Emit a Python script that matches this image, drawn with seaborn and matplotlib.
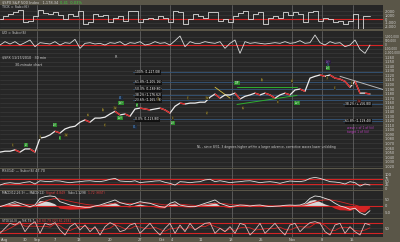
import numpy as np
import pandas as pd
import matplotlib
matplotlib.use("Agg")
import matplotlib.pyplot as plt
from matplotlib.collections import LineCollection
import seaborn as sns

# ---------------- data ----------------
price = [1051, 1053, 1053, 1056, 1051, 1058, 1058, 1051, 1082, 1084,
         1089, 1097, 1093, 1102, 1106, 1108, 1117, 1122, 1117, 1126,
         1126, 1128, 1135, 1141, 1133, 1135, 1130, 1146, 1148, 1146,
         1144, 1146, 1148, 1144, 1137, 1152, 1159, 1157, 1159, 1159,
         1161, 1161, 1172, 1179, 1170, 1177, 1177, 1181, 1168, 1174,
         1177, 1181, 1177, 1181, 1177, 1170, 1177, 1181, 1177, 1188,
         1190, 1185, 1214, 1218, 1221, 1218, 1221, 1214, 1212, 1207,
         1194, 1207, 1181, 1181, 1179]
tick = [0, 800, 1300, 1800, 2500, -800, -500, 800, 2500, 1500,
        1300, 1800, 1200, 0, 1300, 800, 2000, -1300, -800, 1300,
        800, 1200, -800, 400, 800, -500, 2000, 2000, -800, 0,
        400, 0, 800, 400, -800, 2000, 1800, -1300, 0, 1300,
        800, 400, 1800, 1800, -500, 0, -800, 800, 1700, 2000,
        0, 1300, 1800, -1300, 400, 800, 400, 1800, 1200, 1800,
        1300, -800, 1800, 2000, -500, 400, 0, -800, -500, -1300,
        -500, 1300, -2700, 800, 800]
updown_k = [0, 417, 125, 417, 0, 292, 625, -208, 292, 208,
            125, 417, 0, 292, 208, 708, -417, 208, 292, 125,
            208, 0, 292, 208, 417, 0, 292, 208, 417, 0,
            125, 417, 208, 292, 0, 542, 1125, -208, 417, 208,
            208, 417, 292, 208, 417, -417, 208, 625, -1042, 417,
            208, 292, 208, 125, 208, 292, 208, 417, 208, 292,
            542, 208, 292, 1250, 292, 0, 417, 208, 292, -208,
            0, 625, -542, -1042, 0]
rsi = [23, 36, 41, 36, 36, 44, 49, 31, 56, 51,
       49, 56, 54, 46, 41, 46, 49, 54, 56, 51,
       49, 56, 67, 74, 54, 51, 49, 56, 41, 46,
       49, 54, 56, 44, 36, 23, 49, 46, 41, 46,
       49, 62, 67, 49, 56, 49, 41, 46, 49, 54,
       56, 49, 41, 46, 49, 44, 36, 46, 54, 51,
       49, 56, 74, 82, 74, 62, 49, 46, 41, 31,
       49, 41, 15, 31, 23]
macd = [-5, 7, 20, 32, 20, 7, -5, 7, 57, 70,
        75, 70, 32, 20, 7, 0, -5, -10, -10, 0,
        7, 20, 32, 45, 25, 15, 7, 20, 32, 25,
        20, 7, -5, -10, 20, 32, 7, 0, -5, -5,
        7, 20, 32, 45, 20, 7, -5, 0, 7, 5,
        0, 5, 7, 0, -5, -2, 0, 5, 7, 5,
        7, 20, 57, 75, 70, 57, 45, 20, 0, -10,
        -25, -17, -50, -67, -35]
signal = [0, 2, 6, 12, 15, 13, 9, 8, 20, 35,
          48, 57, 52, 44, 35, 27, 20, 13, 8, 5,
          5, 8, 14, 22, 23, 21, 18, 18, 21, 22,
          21, 18, 13, 8, 10, 15, 13, 10, 7, 4,
          5, 8, 13, 20, 20, 17, 12, 9, 8, 7,
          5, 5, 5, 4, 2, 1, 1, 2, 3, 4,
          4, 8, 18, 30, 40, 45, 45, 40, 32, 23,
          13, 7, -5, -18, -22]
stoch_k = [20, 50, 80, 70, 90, 30, 70, 90, 20, 80,
           70, 84, 40, 10, 60, 80, 40, 70, 30, 60,
           10, 60, 84, 70, 30, 40, 70, 80, 20, 50,
           80, 40, 10, 50, 80, 20, 70, 30, 80, 40,
           60, 80, 84, 20, 50, 30, 60, 20, 80, 70,
           10, 40, 80, 20, 50, 80, 40, 10, 70, 80,
           30, 60, 84, 90, 80, 30, 10, 70, 80, 20,
           60, 30, 10, 80, 70]
stoch_d = [30, 35, 50, 67, 80, 63, 63, 63, 60, 63,
           57, 78, 65, 45, 37, 50, 60, 63, 47, 53,
           33, 43, 51, 71, 61, 47, 47, 63, 57, 50,
           50, 57, 43, 33, 47, 50, 57, 40, 60, 43,
           60, 60, 75, 61, 51, 33, 47, 37, 53, 57,
           53, 40, 43, 47, 50, 50, 57, 43, 40, 53,
           60, 57, 58, 78, 85, 67, 40, 37, 53, 57,
           53, 37, 33, 40, 53]

date_labels = ["Aug", "30", "Sep", "7", "13", "20", "27", "Oct", "4",
               "11", "18", "25", "Nov", "8", "15"]
date_pos = [1.0, 5.0, 7.4, 11.0, 15.8, 22.0, 28.0, 32.4, 34.3,
            40.2, 46.2, 52.2, 58.4, 64.4, 70.4]
vgrid_pos = [7.4, 15.8, 28.0, 34.0, 46.4, 58.4, 64.4, 70.6]

price_ticks = list(range(1020, 1261, 10))
tick_ticks = [2000, 1000, 0, -1000, -2000]
ud_ticks = [1000, 500, 0, -500, -1000]
rsi_ticks = [100, 75, 50, 25, 0]
macd_ticks = [50, 0, -50]
stoch_ticks = [50]

fib_left = [1227.2, 1205.2, 1189.8, 1176.6, 1165.6, 1123.8]
fib_left_txt = ["100% (1,227.08)", "61.8% (1,205.16)", "50.0% (1,189.80)",
                "38.2% (1,176.62)", "23.6% (1,165.58)", "0.0% (1,123.80)"]
fib_right = [1156.8, 1119.4]
fib_right_txt = ["38.2% (1,156.80)", "61.8% (1,119.40)"]

# ---------------- style ----------------
BG = "#5a5648"
PANEL = "#262626"
GRID = "#3b3b3b"
VGRID = "#6c6c6c"
TXT = "#d2d2d2"
RED = "#d42424"
LRED = "#e04040"

sns.set_style("dark", rc={"axes.facecolor": PANEL, "figure.facecolor": BG})
plt.rcParams["font.family"] = ["DejaVu Sans"]

W, H = 400, 242
fig = plt.figure(figsize=(4, 2.42), dpi=100, facecolor=BG)
renderer = fig.canvas.get_renderer()
XMAX = 383 / 5.0

df = pd.DataFrame({"bar": np.arange(len(price)), "price": price,
                   "tick": tick, "ud": np.array(updown_k) * 1000,
                   "rsi": rsi, "macd": macd, "signal": signal,
                   "k": stoch_k, "d": stoch_d})


def px_axes(x0, y0, x1, y1, ylim, yticks, fmt="{:,}", fs=2.6):
    ax = fig.add_axes([x0 / W, 1 - y1 / H, (x1 - x0) / W, (y1 - y0) / H])
    ax.set_facecolor(PANEL)
    for s in ax.spines.values():
        s.set_visible(False)
    ax.set_xlim(0, XMAX)
    ax.set_ylim(*ylim)
    ax.set_xticks([])
    ax.yaxis.tick_right()
    ax.set_yticks(yticks)
    ax.set_yticklabels([fmt.format(v) for v in yticks])
    ax.tick_params(axis="y", length=0, pad=1.0, labelsize=fs, labelcolor=TXT)
    for v in yticks:
        ax.axhline(v, color=GRID, lw=0.45, zorder=0.3)
    for d in vgrid_pos:
        ax.axvline(d, color=VGRID, lw=0.5, zorder=0.5)
    ax.set_xlabel("")
    ax.set_ylabel("")
    return ax


def header(x_px, y_px, s, color=TXT, fs=2.4):
    return fig.text(x_px / W, 1 - y_px / H, s, color=color, fontsize=fs,
                    va="center", ha="left")


def header_chain(x_px, y_px, parts, fs=2.4, gap=2.0):
    x = x_px
    for s, c in parts:
        t = header(x, y_px, s, color=c, fs=fs)
        bb = t.get_window_extent(renderer=renderer)
        x += bb.width + gap


# title bar
header_chain(2, 2.5, [("$SPX S&P 500 Index   1,178.34", TXT),
                      ("0.41  0.03%", "#3ccf3c")], fs=2.6)

# ---- panel 1: TICK ----
ax1 = px_axes(0, 5, 383, 29, (-2600, 3700), tick_ticks)
sns.lineplot(data=df, x="bar", y="tick", ax=ax1, color="#dcdcdc", lw=0.6,
             drawstyle="steps-mid", zorder=3)
ax1.axhline(0, color=RED, lw=0.8, zorder=2)
ax1.set_xlabel(""); ax1.set_ylabel("")
header(2, 7.5, "TICK = Sub=(6)")

# ---- panel 2: up/down ----
ax2 = px_axes(0, 31, 383, 55, (-1250000, 1750000), [v * 1000 for v in ud_ticks],
              fs=2.1)
sns.lineplot(data=df, x="bar", y="ud", ax=ax2, color="#dcdcdc", lw=0.6, zorder=3)
ax2.axhline(0, color=RED, lw=0.8, zorder=2)
ax2.set_xlabel(""); ax2.set_ylabel("")
header(2, 33.5, "UD = Sub=(6)")

# ---- main price panel ----
axm = px_axes(0, 55, 383, 168, (1016, 1265), price_ticks, fs=2.5)
for lv, s in zip(fib_left, fib_left_txt):
    axm.plot([26.5, XMAX], [lv, lv], color="#35577a", lw=0.6, zorder=1)
    axm.text(27, lv, s, fontsize=2.2, color="white", va="center", ha="left",
             zorder=6, bbox=dict(facecolor="#111111", edgecolor="none", pad=0.3))
for lv, s in zip(fib_right, fib_right_txt):
    axm.plot([68.5, XMAX], [lv, lv], color="#35577a", lw=0.6, zorder=1)
    axm.text(69, lv, s, fontsize=2.2, color="white", va="center", ha="left",
             zorder=6, bbox=dict(facecolor="#111111", edgecolor="none", pad=0.3))
# analyst trendlines
axm.plot([47.4, 59.4], [1194, 1194], color="#2fae2f", lw=0.7, zorder=2)
axm.plot([47.4, 59.4], [1156, 1176], color="#2fae2f", lw=0.7, zorder=2)
axm.plot([68, XMAX], [1218, 1189], color="#b8b8b8", lw=0.7, zorder=2)
axm.plot([43, 46], [1194, 1170], color="#d8c040", lw=0.6, zorder=2)

sns.lineplot(data=df, x="bar", y="price", ax=axm, color="#ececec", lw=0.9, zorder=3)
segs = [[(i - 1, price[i - 1]), (i, price[i])] for i in range(1, len(price))
        if price[i] < price[i - 1]]
axm.add_collection(LineCollection(segs, colors=RED, linewidths=1.0, zorder=4))
axm.set_xlabel(""); axm.set_ylabel("")

header(2, 57.5, "$SPX 11/17/2010   30 min")
header(115, 57.5, "R")
header(15, 65, "30-minute chart")
fig.text(197 / W, 1 - 147 / H,
         "NL - since 8/31, 3 degrees higher within a larger advance, corrective waves lower unfolding",
         color=TXT, fontsize=2.2, va="center", ha="left")
fig.text(347 / W, 1 - 128 / H, "wave c of 1 of (iii)", color="#c040c0",
         fontsize=2.2, va="center", ha="left")
fig.text(347 / W, 1 - 132 / H, "target 1 of (iii)", color="#c040c0",
         fontsize=2.2, va="center", ha="left")

# wave labels (annotation boxes)
waves = [
    (13, 145, "ii", "y"), (26, 145, "(i)", "g"), (55, 125, "(ii)", "g"),
    (60, 138, "iii", "g"), (40, 137, "i", "y"), (66, 135, "iv", "y"),
    (88, 115, "a", "y"), (103, 110, "b", "y"), (105, 125, "c", "y"),
    (121, 98, "A1", "b"), (121, 103, "(iii)", "g"), (115, 108, "iv", "y"),
    (120, 118, "(iv)", "g"), (137, 105, "v", "g"), (135, 127, "B1", "b"),
    (158, 99, "i", "y"), (173, 123, "(ii)", "g"), (173, 118, "ii", "y"),
    (188, 98, "iii", "y"), (207, 98, "iv", "y"), (207, 113, "v", "y"),
    (237, 83, "DIP", "g"), (243, 108, "a", "y"), (262, 80, "b", "y"),
    (278, 102, "c", "y"), (292, 81, "d", "y"), (297, 103, "(iv)", "g"),
    (328, 62, "(iii)", "p"), (328, 65, "3", "b"), (328, 68, "(v)", "g"),
    (327, 78, "i", "y"), (335, 88, "ii", "y"), (352, 83, "iii", "y"),
    (359, 101, "iv", "r"),
]
wstyle = {"y": ("#d8c040", "#3a3520"), "g": ("#e8ffe8", "#2a8a2a"),
          "b": ("#5a9ae0", "#1e2a3a"), "p": ("#b070e0", "#2a1e3a"),
          "r": ("#e04040", "#3a1e1e")}
for xp, yp, s, k in waves:
    fc, bc = wstyle[k]
    fig.text(xp / W, 1 - yp / H, s, color=fc, fontsize=2.0, ha="center",
             va="center", bbox=dict(facecolor=bc, edgecolor="none", pad=0.25))

# ---- RSI ----
axr = px_axes(0, 169, 383, 190, (-15, 146), rsi_ticks)
axr.axhline(70, color=RED, lw=0.8, zorder=2)
axr.axhline(30, color=RED, lw=0.8, zorder=2)
sns.lineplot(data=df, x="bar", y="rsi", ax=axr, color="#dcdcdc", lw=0.6, zorder=3)
axr.set_xlabel(""); axr.set_ylabel("")
header(2, 171, "RSI(14) \u2014 Sub=(6) 47.70")

# ---- MACD ----
axc = px_axes(0, 191, 383, 218, (-90, 112), macd_ticks)
hist = np.array(macd) - np.array(signal)
bars = df["bar"].values
axc.fill_between(bars, 0, hist, where=hist >= 0, color="#d8d8d8", lw=0,
                 interpolate=True, zorder=2)
axc.fill_between(bars, 0, hist, where=hist < 0, color=RED, lw=0,
                 interpolate=True, zorder=2)
axc.axhline(0, color=RED, lw=0.8, zorder=2)
sns.lineplot(data=df, x="bar", y="signal", ax=axc, color=RED, lw=0.6, zorder=3)
sns.lineplot(data=df, x="bar", y="macd", ax=axc, color="#e6e6e6", lw=0.6, zorder=4)
axc.set_xlabel(""); axc.set_ylabel("")
header_chain(2, 193, [("MACD(12,26,9) \u2014 MACD(12)", TXT),
                      ("Signal 4.849", LRED), ("Sub=1.1298", TXT),
                      ("1.72 (HIST)", LRED)], fs=2.2)

# ---- Stochastic ----
axs = px_axes(0, 219, 383, 237, (-2, 106), stoch_ticks)
axs.axhline(80, color=RED, lw=0.8, zorder=2)
axs.axhline(20, color=RED, lw=0.8, zorder=2)
sns.lineplot(data=df, x="bar", y="d", ax=axs, color=RED, lw=0.6, zorder=3)
sns.lineplot(data=df, x="bar", y="k", ax=axs, color="#e2b8b8", lw=0.6, zorder=4)
axs.set_xlabel(""); axs.set_ylabel("")
header_chain(2, 221, [("STO(14,3) \u2014 %K 79.7", TXT),
                      ("%D 60.79 (22) 61.2781", LRED)], fs=2.2)
axs.set_xticks(date_pos)
axs.set_xticklabels(date_labels)
axs.tick_params(axis="x", length=0, pad=0.8, labelsize=2.6, labelcolor=TXT)

fig.savefig("out.png", dpi=100, facecolor=BG)
